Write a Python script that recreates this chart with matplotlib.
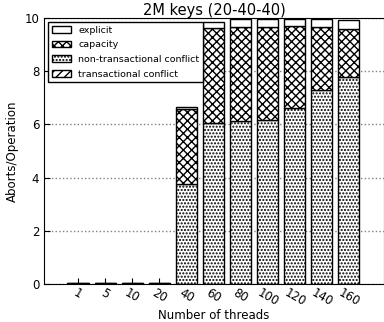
import matplotlib
matplotlib.use("Agg")
import matplotlib.pyplot as plt
import numpy as np

threads = ["1", "5", "10", "20", "40", "60", "80", "100", "120", "140", "160"]
transactional = [0.0, 0.0, 0.0, 0.0, 0.0, 0.0, 0.0, 0.0, 0.0, 0.0, 0.0]
non_transactional = [0.0, 0.0, 0.0, 0.0, 3.77, 6.05, 6.13, 6.17, 6.62, 7.3, 7.78]
capacity = [0.04, 0.04, 0.04, 0.03, 2.8, 3.57, 3.53, 3.49, 3.08, 2.36, 1.82]
explicit = [0.0, 0.0, 0.0, 0.0, 0.08, 0.23, 0.3, 0.3, 0.26, 0.3, 0.32]

plt.rcParams['hatch.linewidth'] = 1.0
fig = plt.figure(figsize=(3.84, 3.22), dpi=100)
ax = fig.add_axes([0.115, 0.118, 0.885, 0.826])

x = np.arange(len(threads))
w = 0.78
b0 = np.zeros(len(threads))
b1 = b0 + np.array(transactional)
b2 = b1 + np.array(non_transactional)
b3 = b2 + np.array(capacity)

h_tc = ax.bar(x, transactional, w, bottom=b0, color='white', edgecolor='black', hatch='////', linewidth=1, label='transactional conflict')
h_nt = ax.bar(x, non_transactional, w, bottom=b1, color='white', edgecolor='black', hatch='.....', linewidth=1, label='non-transactional conflict')
h_cap = ax.bar(x, capacity, w, bottom=b2, color='white', edgecolor='black', hatch='xxxx', linewidth=1, label='capacity')
h_ex = ax.bar(x, explicit, w, bottom=b3, color='white', edgecolor='black', hatch='', linewidth=1, label='explicit')

ax.set_xlim(-1.25, 11.3)
ax.set_ylim(0, 10)
ax.set_yticks([0, 2, 4, 6, 8, 10])
ax.set_xticks(x)
ax.set_xticklabels(threads, rotation=-30, fontsize=8.5)
ax.tick_params(axis='x', pad=2)
ax.tick_params(axis='y', labelsize=8.5)
ax.tick_params(direction='in', length=4)
ax.yaxis.grid(True, linestyle=':', color='gray', linewidth=1)
ax.set_axisbelow(True)
ax.set_title("2M keys (20-40-40)", fontsize=10.5, pad=1)
ax.set_xlabel("Number of threads", fontsize=8.5, labelpad=0)
ax.set_ylabel("Aborts/Operation", fontsize=8.5, labelpad=4)
ax.legend(handles=[h_ex, h_cap, h_nt, h_tc], loc='upper left', fontsize=6.8, fancybox=False,
          edgecolor='black', framealpha=1, borderaxespad=0.4, handlelength=2.0, labelspacing=0.6)

fig.savefig("out.png", dpi=100)
